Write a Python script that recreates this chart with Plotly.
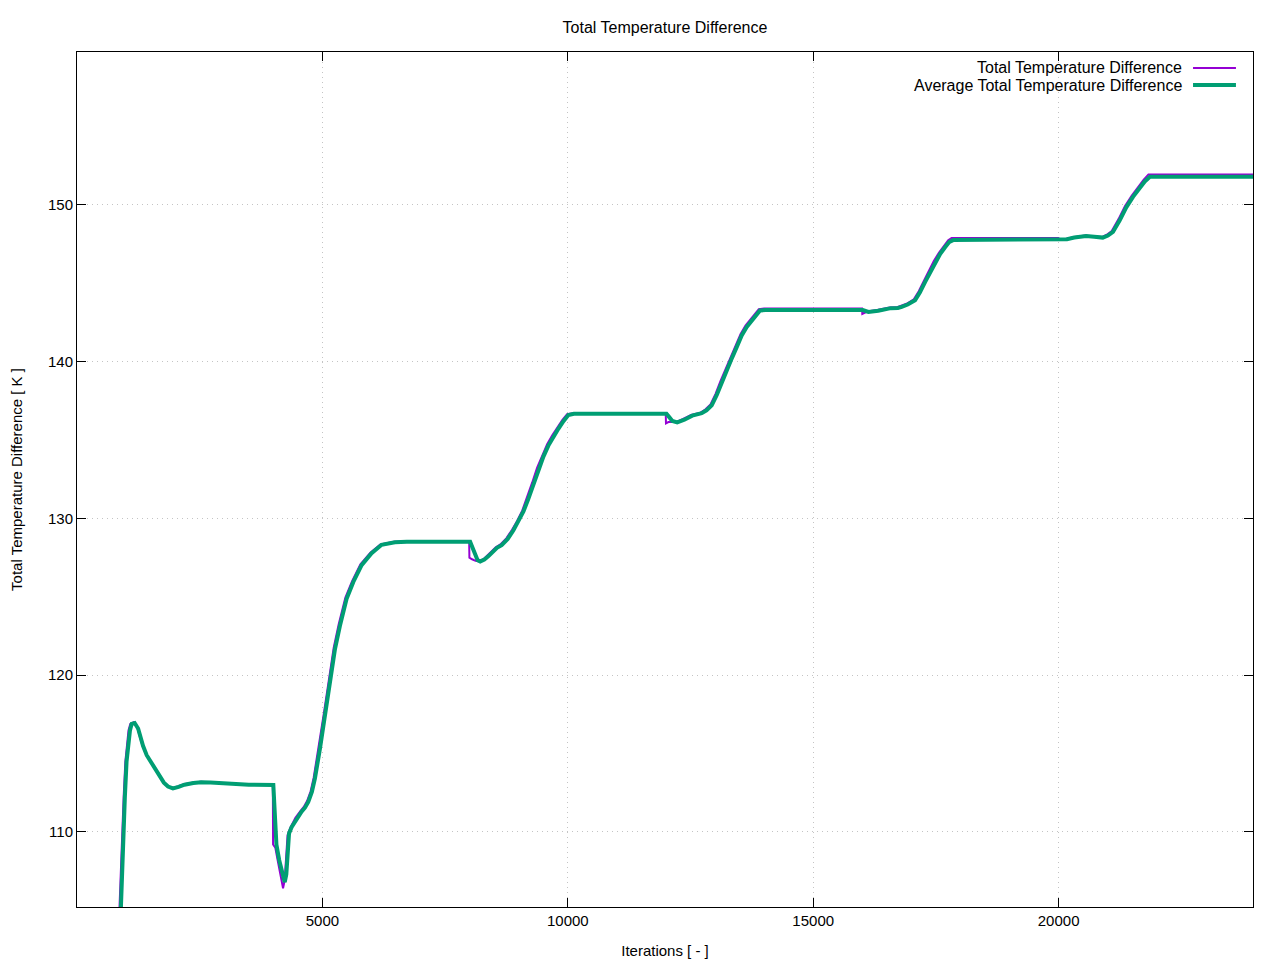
import plotly.graph_objects as go

# ---- data ----
iter_total = [866, 900, 930, 950, 985, 1019, 1050, 1086, 1154, 1223, 1270, 1325, 1400, 1494, 1580, 1663, 1750,
              1834, 1936, 2050, 2173, 2350, 2513, 2700, 2853, 3100, 3500, 3990, 3995, 4040, 4100, 4160, 4198,
              4230, 4260, 4290, 4347, 4450, 4551, 4620, 4687, 4760, 4822, 4924, 5026, 5128, 5230, 5332, 5468,
              5605, 5774, 5977, 6181, 6453, 6700, 7990, 7995, 8050, 8120, 8190, 8280, 8360, 8450, 8531, 8627,
              8750, 8867, 8967, 9071, 9171, 9275, 9375, 9478, 9579, 9680, 9782, 9890, 9986, 10100, 11995, 12000,
              12050, 12204, 12350, 12510, 12703, 12800, 12907, 13010, 13110, 13212, 13314, 13416, 13518, 13620,
              13721, 13810, 13891, 14000, 15995, 16000, 16100, 16300, 16557, 16700, 16778, 16900, 17050, 17150,
              17253, 17357, 17457, 17560, 17661, 17750, 17820, 19995, 20000, 20150, 20300, 20537, 20700, 20878,
              20980, 21082, 21220, 21353, 21490, 21626, 21730, 21830, 23960]
total_diff = [105.2, 108.5, 110.8, 112.2, 114.5, 115.86, 116.5, 116.9, 117.0, 116.7, 116.2, 115.6, 115.0, 114.5,
              114.1, 113.7, 113.25, 112.94, 112.8, 112.9, 113.05, 113.15, 113.2, 113.18, 113.15, 113.08, 113.05,
              113.02, 109.2, 109.0, 108.0, 106.9, 106.4, 106.9, 108.5, 109.8, 110.27, 110.9, 111.33, 111.6,
              111.97, 112.6, 113.46, 115.37, 117.5, 119.63, 121.76, 123.25, 124.95, 126.0, 127.07, 127.81,
              128.35, 128.51, 128.55, 128.55, 127.5, 127.4, 127.3, 127.26, 127.4, 127.64, 127.95, 128.17, 128.35,
              128.75, 129.3, 129.84, 130.5, 131.33, 132.3, 133.25, 134.05, 134.74, 135.3, 135.8, 136.3, 136.65,
              136.72, 136.72, 136.07, 136.15, 136.15, 136.35, 136.6, 136.75, 136.95, 137.28, 137.95, 138.77,
              139.5, 140.26, 141.0, 141.75, 142.3, 142.71, 143.05, 143.35, 143.4, 143.4, 143.05, 143.2, 143.3,
              143.46, 143.47, 143.56, 143.7, 143.98, 144.5, 145.15, 145.8, 146.43, 146.95, 147.38, 147.75, 147.9,
              147.9, 147.8, 147.85, 147.95, 148.05, 148.0, 147.95, 148.1, 148.34, 149.1, 149.94, 150.6, 151.2,
              151.6, 151.95, 151.95]

iter_avg = [895, 925, 955, 975, 1010, 1045, 1080, 1115, 1175, 1245, 1290, 1345, 1420, 1515, 1600, 1685, 1770,
            1855, 1955, 2070, 2190, 2370, 2530, 2720, 2870, 3120, 3500, 4000, 4030, 4063, 4120, 4180, 4233, 4265,
            4290, 4320, 4372, 4475, 4575, 4645, 4712, 4785, 4847, 4949, 5051, 5153, 5255, 5357, 5493, 5630, 5799,
            6002, 6206, 6478, 6720, 8010, 8060, 8110, 8160, 8215, 8300, 8385, 8475, 8556, 8652, 8775, 8892, 8992,
            9096, 9196, 9300, 9400, 9503, 9604, 9705, 9807, 9915, 10011, 10125, 12010, 12070, 12130, 12229,
            12375, 12535, 12728, 12825, 12932, 13035, 13135, 13237, 13339, 13441, 13543, 13645, 13746, 13835,
            13916, 14030, 16010, 16125, 16325, 16582, 16725, 16803, 16925, 17075, 17175, 17278, 17382, 17482,
            17585, 17686, 17775, 17850, 20010, 20170, 20320, 20560, 20725, 20900, 21005, 21107, 21245, 21378,
            21515, 21651, 21755, 21860, 23960]
avg_diff = [105.2, 108.5, 110.8, 112.2, 114.5, 115.8, 116.5, 116.9, 116.95, 116.6, 116.1, 115.5, 114.9, 114.4,
            114.0, 113.6, 113.15, 112.9, 112.78, 112.88, 113.02, 113.12, 113.17, 113.15, 113.12, 113.05, 113.02,
            113.0, 111.0, 109.2, 108.2, 107.3, 106.8, 107.3, 108.8, 109.9, 110.3, 110.85, 111.3, 111.55, 111.92,
            112.55, 113.4, 115.3, 117.4, 119.5, 121.65, 123.15, 124.88, 125.95, 127.02, 127.78, 128.32, 128.48,
            128.52, 128.52, 128.1, 127.6, 127.35, 127.26, 127.38, 127.6, 127.9, 128.13, 128.3, 128.7, 129.25,
            129.8, 130.45, 131.25, 132.2, 133.15, 133.95, 134.65, 135.22, 135.72, 136.22, 136.6, 136.68, 136.68,
            136.45, 136.22, 136.13, 136.3, 136.56, 136.72, 136.9, 137.22, 137.88, 138.7, 139.43, 140.2, 140.93,
            141.68, 142.22, 142.63, 142.98, 143.27, 143.3, 143.3, 143.18, 143.25, 143.42, 143.43, 143.5, 143.65,
            143.92, 144.43, 145.08, 145.72, 146.35, 146.87, 147.3, 147.65, 147.76, 147.76, 147.82, 147.92,
            148.02, 147.98, 147.92, 148.05, 148.28, 149.02, 149.85, 150.52, 151.1, 151.5, 151.8, 151.8]

x_ticks = [5000, 10000, 15000, 20000]
y_ticks = [110, 120, 130, 140, 150]

title_text = "Total Temperature Difference"
x_title = "Iterations [ - ]"
y_title = "Total Temperature Difference [ K ]"
series_names = ["Total Temperature Difference", "Average Total Temperature Difference"]
series_colors = ["#9400D3", "#009E73"]
series_widths = [2, 4]

assert len(iter_total) == len(total_diff)
assert len(iter_avg) == len(avg_diff)

FONT = "Liberation Sans, Arial, sans-serif"

fig = go.Figure()
fig.add_trace(go.Scatter(x=iter_total, y=total_diff, mode="lines", name=series_names[0],
                         line=dict(color=series_colors[0], width=series_widths[0]), showlegend=False))
fig.add_trace(go.Scatter(x=iter_avg, y=avg_diff, mode="lines", name=series_names[1],
                         line=dict(color=series_colors[1], width=series_widths[1]), showlegend=False))

axis_common = dict(showline=True, linecolor="black", linewidth=1, mirror="ticks", ticks="inside",
                   ticklen=9, tickcolor="black", showgrid=True, gridcolor="#c4c4c4", griddash="1px,4px",
                   gridwidth=1, zeroline=False, automargin=False,
                   tickfont=dict(size=15, color="black", family=FONT))

fig.update_layout(
    width=1280, height=960,
    margin=dict(l=69, r=35, t=44, b=61),
    paper_bgcolor="white", plot_bgcolor="white",
    font=dict(family=FONT, color="black", size=15),
    title=dict(text=title_text, x=657 / 1280, xanchor="center", y=1 - 19 / 960, yanchor="middle",
               font=dict(size=16, family=FONT, color="black")),
    xaxis=dict(range=[0, 23960], tickvals=x_ticks, ticktext=[str(v) for v in x_ticks],
               title=dict(text=x_title, standoff=17, font=dict(size=15)), **axis_common),
    yaxis=dict(range=[105.215, 159.76], tickvals=y_ticks, ticktext=[str(v) for v in y_ticks],
               title=dict(text=y_title, standoff=22, font=dict(size=15)), **axis_common),
)

# gnuplot-style key (text on the left, sample line on the right)
legend_y = [0.9813, 0.9614]
for name, color, width, ly in zip(series_names, series_colors, series_widths, legend_y):
    fig.add_annotation(xref="paper", yref="paper", x=0.9413, y=ly, text=name, showarrow=False,
                       xanchor="right", yanchor="middle", font=dict(size=16, family=FONT, color="black"))
    fig.add_shape(type="line", xref="paper", yref="paper", x0=0.949, x1=0.9855, y0=ly, y1=ly,
                  line=dict(color=color, width=width))

fig.write_html("out.html")
